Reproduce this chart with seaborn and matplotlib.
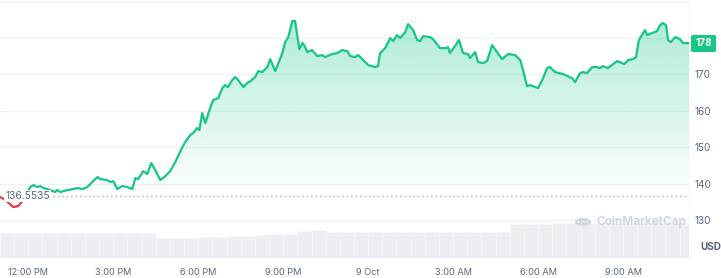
import numpy as np
import pandas as pd
import matplotlib
matplotlib.use("Agg")
import matplotlib.pyplot as plt
from matplotlib.patches import FancyBboxPatch, Circle
import seaborn as sns

# ---- data (hours since 8 Oct 00:00, price in USD) ----
hours = [11.01, 11.19, 11.47, 11.65, 11.79, 11.93, 12.07, 12.18, 12.32, 12.42, 12.53, 12.67,
         12.85, 12.95, 13.02, 13.13, 13.38, 13.59, 13.73, 13.91, 14.08, 14.26, 14.44, 14.54,
         14.79, 14.89, 15.00, 15.14, 15.32, 15.49, 15.67, 15.78, 15.88, 16.06, 16.20, 16.34,
         16.48, 16.66, 16.84, 17.01, 17.19, 17.37, 17.54, 17.72, 17.82, 17.96, 18.04, 18.14,
         18.25, 18.42, 18.53, 18.71, 18.85, 18.95, 19.05, 19.20, 19.30, 19.41, 19.59, 19.73,
         19.84, 20.01, 20.12, 20.26, 20.44, 20.54, 20.72, 20.97, 21.07, 21.18, 21.32, 21.42,
         21.57, 21.68, 21.74, 21.85, 22.02, 22.20, 22.38, 22.48, 22.73, 22.91, 23.08, 23.26,
         23.37, 23.54, 23.65, 24.00, 24.25, 24.35, 24.42, 24.60, 24.78, 24.88, 25.02, 25.13,
         25.31, 25.41, 25.59, 25.73, 25.84, 25.94, 26.19, 26.29, 26.54, 26.75, 26.82, 26.89,
         27.21, 27.35, 27.53, 27.60, 27.78, 27.88, 28.06, 28.20, 28.38, 28.55, 28.73, 28.94,
         29.19, 29.37, 29.47, 29.61, 29.72, 30.00, 30.18, 30.32, 30.42, 30.60, 30.88, 31.20,
         31.31, 31.48, 31.59, 31.73, 31.91, 32.08, 32.19, 32.29, 32.47, 32.79, 32.89, 33.04,
         33.18, 33.35, 33.46, 33.56, 33.71, 33.78, 33.85, 34.02, 34.20, 34.31, 34.41, 34.52,
         34.59, 34.69, 34.84, 35.01, 35.12, 35.33]
price = [136.30, 135.48, 133.56, 133.84, 135.21, 137.12, 139.04, 139.59, 139.04, 139.32, 138.77, 138.49,
         137.95, 137.67, 138.22, 137.67, 138.22, 138.49, 138.77, 138.49, 139.04, 140.41, 141.78, 141.23,
         140.96, 140.41, 140.68, 138.49, 139.32, 139.04, 138.49, 141.51, 141.23, 143.42, 142.60, 145.62,
         143.70, 140.96, 142.05, 143.42, 145.89, 148.90, 151.37, 153.29, 153.84, 155.21, 154.66, 159.32,
         156.58, 160.68, 162.88, 163.42, 166.16, 166.99, 166.44, 168.36, 169.18, 168.36, 166.44, 167.53,
         168.08, 169.18, 170.82, 170.55, 171.92, 174.11, 170.82, 175.75, 178.77, 180.14, 184.52, 184.52,
         176.85, 178.49, 177.95, 176.03, 176.58, 174.93, 175.21, 174.66, 175.48, 175.75, 176.58, 176.30,
         174.93, 174.66, 175.21, 172.47, 171.92, 172.19, 175.75, 177.12, 179.86, 179.04, 180.68, 179.86,
         181.51, 183.70, 182.05, 179.32, 179.04, 180.41, 180.14, 179.59, 177.12, 177.12, 177.40, 175.75,
         179.32, 175.75, 175.48, 174.38, 176.03, 173.29, 173.01, 173.56, 177.95, 176.03, 174.11, 175.48,
         175.21, 173.84, 171.10, 166.71, 166.99, 166.16, 168.90, 171.64, 171.92, 170.55, 170.00, 168.90,
         167.81, 170.27, 170.55, 170.27, 171.92, 171.92, 171.64, 172.19, 171.64, 173.56, 173.29, 172.74,
         173.84, 174.11, 174.66, 179.32, 181.23, 182.05, 180.68, 181.23, 181.78, 183.42, 183.97, 183.42,
         179.32, 178.77, 180.14, 179.59, 178.49, 178.49]
baseline = 136.5535
current_label = "178"

vol_hours = [11.0 + 0.5 * i for i in range(49)]
volume = [25, 25, 25, 25, 25, 25, 25, 25, 25, 25, 25,
          20, 20, 20,
          21, 21,
          22, 22, 23,
          24, 24, 27, 28,
          26, 26, 26, 26, 26, 26, 26, 26, 26, 26, 26, 26, 26,
          34, 34, 34, 35, 35, 35, 35, 35, 35, 35, 35, 35, 35]

xtick_pos = [12, 15, 18, 21, 24, 27, 30, 33]
xtick_lab = ["12:00 PM", "3:00 PM", "6:00 PM", "9:00 PM", "9 Oct", "3:00 AM", "6:00 AM", "9:00 AM"]
ytick_pos = [130, 140, 150, 160, 170]

GREEN = "#16c784"
RED = "#ea3943"
GRAY_TXT = "#58667e"
GRID = "#eff2f5"
WM = "#cfd4db"

sns.set_theme(style="white")
plt.rcParams["font.family"] = ["Inter", "DejaVu Sans"]

df = pd.DataFrame({"t": hours, "p": price})
red_df = df.iloc[:6]
green_df = df.iloc[5:]

fig = plt.figure(figsize=(7.21, 2.78), dpi=100)
ax = fig.add_axes([0.0, 1 - 258 / 278, 689 / 721, 258 / 278])
ax2 = ax.twinx()
ax.set_zorder(2)
ax2.set_zorder(1)
ax.patch.set_visible(False)

xmin, xmax = 11.0, 35.33
ymin, ymax = 119.6, 190.3

# volume bars
ax2.bar(vol_hours, volume, width=0.5, align="edge", color="#eceef2",
        edgecolor="#f7f8fa", linewidth=0.4)
ax2.set_ylim(0, 258)
ax2.set_xlim(xmin, xmax)
ax2.set_yticks([])
for s in ax2.spines.values():
    s.set_visible(False)

# grid lines
for g in [130, 140, 150, 160, 170, 180, 190]:
    ax.axhline(g, color=GRID, lw=1.0, zorder=0)

# gradient fill under line
poly = ax.fill_between(df["t"], df["p"], ymin, color="none", lw=0)
path = poly.get_paths()[0]
n = 256
grad = np.zeros((n, 1, 4))
rgb = matplotlib.colors.to_rgb(GREEN)
grad[:, 0, 0:3] = rgb
grad[:, 0, 3] = np.clip(np.linspace(-0.12, 0.38, n), 0, None)
img = ax.imshow(grad, extent=[xmin, xmax, ymin, 190.3], origin="lower", aspect="auto", zorder=1)
img.set_clip_path(path, ax.transData)

# baseline
ax.plot([12.55, xmax], [baseline, baseline], color="#a6b0c3", lw=1.0,
        linestyle=(0, (1, 2.2)), zorder=2)

# price line
sns.lineplot(data=red_df, x="t", y="p", color=RED, lw=1.6, ax=ax, zorder=3)
sns.lineplot(data=green_df, x="t", y="p", color=GREEN, lw=1.6, ax=ax, zorder=3)

ax.set_xlim(xmin, xmax)
ax.set_ylim(ymin, ymax)
ax.set_xlabel("")
ax.set_ylabel("")
for s in ax.spines.values():
    s.set_visible(False)
ax.axvline(xmax, color=GRID, lw=1.0, zorder=0)

ax.set_xticks(xtick_pos)
ax.set_xticklabels(xtick_lab)
ax.yaxis.tick_right()
ax.set_yticks(ytick_pos)
ax.set_yticklabels([str(v) for v in ytick_pos])
ax.tick_params(axis="x", length=0, pad=7, labelsize=6.6, labelcolor=GRAY_TXT)
ax.tick_params(axis="y", length=0, pad=4, labelsize=7.2, labelcolor=GRAY_TXT)

# baseline label
ax.text(11.18, baseline, "136.5535", fontsize=7.4, color=GRAY_TXT, va="center", ha="left",
        zorder=5, bbox=dict(boxstyle="square,pad=0.1", fc="white", ec="none"))

# current price label
fig.patches.append(FancyBboxPatch((691 / 721, 1 - 52 / 278), 25 / 721, 17 / 278,
                                  boxstyle="round,pad=0,rounding_size=0.004",
                                  transform=fig.transFigure, fc=GREEN, ec="none", zorder=10))
fig.text(703.5 / 721, 1 - 43.5 / 278, current_label, color="white", fontsize=7.2,
         fontweight="bold", ha="center", va="center", zorder=11)

# USD label
fig.text(700 / 721, 1 - 247 / 278, "USD", color=GRAY_TXT, fontsize=7.2, fontweight="bold",
         ha="left", va="center")

# watermark
fig.text(686 / 721, 1 - 222 / 278, "CoinMarketCap", color=WM, fontsize=8.6,
         fontweight="semibold", ha="right", va="center", zorder=6)
fig.patches.append(Circle((583 / 721, 1 - 222 / 278), 0.0095, transform=fig.transFigure,
                          fc="none", ec=WM, lw=1.6, zorder=6))
fig.text(583 / 721, 1 - 222.5 / 278, "M", color=WM, fontsize=6.5, fontweight="bold",
         ha="center", va="center", zorder=6)

fig.savefig("out.png", dpi=100)
